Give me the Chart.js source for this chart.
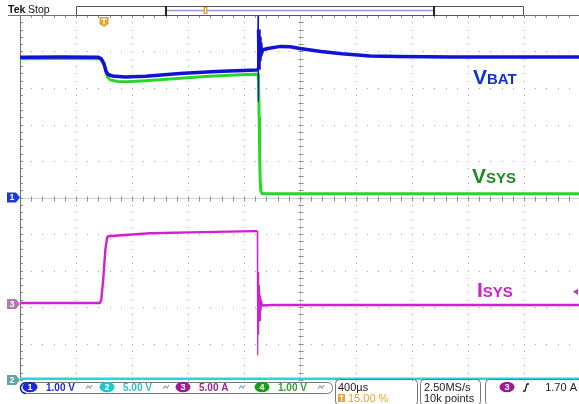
<!DOCTYPE html>
<html>
<head>
<meta charset="utf-8">
<script src="https://cdn.jsdelivr.net/npm/chart.js@4/dist/chart.umd.min.js"></script>
<style>
  html, body { margin: 0; padding: 0; background: #fff; overflow: hidden; }
  #wrap { width: 580px; height: 404px; }
</style>
</head>
<body>
<div id="wrap"><canvas id="scope" width="580" height="404"></canvas></div>
<script>
// horizontal: 400 µs/div, 10 divisions, trigger at 15 %
const timePerDiv = 400;
const triggerPct = 15;
const divsX = 10;
const divsY = 10;

// channel scale (units/div) and ground position (div from centre): CH1, CH2, CH3, CH4
const chScale = [1.00, 5.00, 5.00, 1.00];
const chPos = [0, -5, -2.92, 0];
const trigLevel = 1.70; // A on CH3

// CH1 VBAT (µs, V)
const vbatTime  = [-600, -300, -40, -20, 0, 15, 30, 60, 150, 300, 540, 800, 1090, 1097, 1100, 1102, 1104, 1107, 1110, 1114, 1119, 1125, 1135, 1170, 1260, 1330, 1400, 1550, 1700, 1900, 2100, 2500, 3400];
const vbatVolts = [3.84, 3.85, 3.84, 3.80, 3.66, 3.45, 3.37, 3.33, 3.30, 3.32, 3.40, 3.45, 3.49, 3.50, 5.00, 2.62, 4.60, 3.50, 4.40, 3.75, 4.25, 3.95, 4.05, 4.08, 4.14, 4.13, 4.08, 4.00, 3.94, 3.88, 3.86, 3.85, 3.85];

// CH4 VSYS (µs, V)
const vsysTime  = [-600, -300, -30, -10, 10, 25, 45, 100, 165, 300, 543, 750, 971, 1100, 1104, 1108, 1112, 1116, 1120, 1130, 1200, 1600, 3400];
const vsysVolts = [3.80, 3.81, 3.80, 3.75, 3.52, 3.30, 3.22, 3.18, 3.17, 3.20, 3.27, 3.32, 3.36, 3.38, 3.20, 2.20, 1.10, 0.40, 0.18, 0.11, 0.10, 0.10, 0.10];

// CH3 ISYS (µs, A)
const isysTime = [-600, -30, -20, -5, 10, 22, 30, 100, 329, 700, 1079, 1095, 1098, 1100, 1103, 1106, 1109, 1113, 1117, 1122, 1130, 1200, 3400];
const isysAmps = [0.15, 0.15, 0.5, 3.5, 7.5, 9.1, 9.3, 9.4, 9.7, 9.85, 10.0, 10.0, -7.0, 4.4, -4.2, 2.6, -2.2, 1.2, -0.9, 0.3, -0.2, -0.12, -0.12];

// CH2 (µs, V)
const ch2Time = [-600, 3400];
const ch2Volts = [0.15, 0.15];

const tMin = -divsX * timePerDiv * triggerPct / 100;
const tMax = tMin + divsX * timePerDiv;

const pts = (t, v) => t.map((x, i) => ({ x: x, y: v[i] }));

function chAxis(ch) {
  return {
    type: 'linear', display: false,
    min: (-divsY / 2 - chPos[ch]) * chScale[ch],
    max: (divsY / 2 - chPos[ch]) * chScale[ch]
  };
}

// long steep edges are drawn thin, like on the scope
const steep = w => c => {
  const dx = Math.abs(c.p1.x - c.p0.x), dy = Math.abs(c.p1.y - c.p0.y);
  return (dy > 45 && dy > 4 * dx) ? 1.2 : w;
};

const graticule = {
  id: 'graticule',
  beforeDatasetsDraw(chart) {
    const ctx = chart.ctx, xs = chart.scales.x, ys = chart.scales.yDiv;
    const xAt = d => xs.getPixelForValue(tMin + d * timePerDiv);
    const yAt = d => ys.getPixelForValue(d);
    ctx.save();
    ctx.fillStyle = '#a4a4a4';
    for (let i = 1; i < divsX; i++) {
      if (i === divsX / 2) continue;
      const px = Math.round(xAt(i));
      for (let k = 0; k <= divsY * 5; k++) ctx.fillRect(px, Math.round(yAt(-divsY / 2 + k / 5)), 1, 1);
    }
    for (let j = -divsY / 2 + 1; j < divsY / 2; j++) {
      if (j === 0) continue;
      const py = Math.round(yAt(j));
      for (let k = 0; k <= divsX * 5; k++) ctx.fillRect(Math.round(xAt(k / 5)), py, 1, 1);
    }
    // centre cross with ticks
    const cx = Math.round(xAt(divsX / 2)) + 0.5, cy = Math.round(yAt(0)) + 0.5;
    ctx.strokeStyle = '#d0d0d0';
    ctx.lineWidth = 1;
    ctx.beginPath();
    ctx.moveTo(cx, yAt(divsY / 2)); ctx.lineTo(cx, yAt(-divsY / 2));
    ctx.moveTo(xAt(0), cy); ctx.lineTo(xAt(divsX), cy);
    ctx.stroke();
    ctx.strokeStyle = '#8c8c8c';
    ctx.beginPath();
    for (let k = 0; k <= divsY * 5; k++) {
      const py = Math.round(yAt(-divsY / 2 + k / 5)) + 0.5;
      ctx.moveTo(cx - 2, py); ctx.lineTo(cx + 3, py);
      ctx.moveTo(xAt(0), py); ctx.lineTo(xAt(0) + 3, py);
    }
    for (let k = 0; k <= divsX * 5; k++) {
      const px = Math.round(xAt(k / 5)) + 0.5;
      ctx.moveTo(px, cy - 2); ctx.lineTo(px, cy + 3);
      ctx.moveTo(px, yAt(divsY / 2)); ctx.lineTo(px, yAt(divsY / 2) + 3);
    }
    ctx.stroke();
    // frame: left and top
    ctx.strokeStyle = '#707070';
    ctx.beginPath();
    ctx.moveTo(Math.round(xAt(0)) + 0.5, yAt(divsY / 2));
    ctx.lineTo(Math.round(xAt(0)) + 0.5, yAt(-divsY / 2));
    ctx.moveTo(8, Math.round(yAt(divsY / 2)) + 0.5);
    ctx.lineTo(580, Math.round(yAt(divsY / 2)) + 0.5);
    ctx.stroke();
    ctx.restore();
  }
};

function tag(ctx, y, fill, txt) {
  ctx.fillStyle = fill;
  ctx.beginPath();
  ctx.moveTo(7, y - 5); ctx.lineTo(16, y - 5); ctx.lineTo(20, y); ctx.lineTo(16, y + 5); ctx.lineTo(7, y + 5);
  ctx.closePath(); ctx.fill();
  ctx.fillStyle = '#fff';
  ctx.font = 'bold 9px "Liberation Sans"';
  ctx.textAlign = 'center'; ctx.textBaseline = 'middle';
  ctx.fillText(txt, 12, y + 0.5);
}

function badge(ctx, cx, cy, fill, txt) {
  ctx.fillStyle = fill;
  ctx.beginPath(); ctx.ellipse(cx, cy, 7.5, 5.2, 0, 0, Math.PI * 2); ctx.fill();
  ctx.fillStyle = '#fff';
  ctx.font = 'bold 9px "Liberation Sans"';
  ctx.textAlign = 'center'; ctx.textBaseline = 'middle';
  ctx.fillText(txt, cx, cy + 0.5);
}

function squiggle(ctx, x, y) {
  ctx.strokeStyle = '#8aa2c8'; ctx.lineWidth = 1.2;
  ctx.beginPath();
  ctx.moveTo(x - 3, y + 2); ctx.lineTo(x - 1, y - 1); ctx.lineTo(x + 1, y + 1); ctx.lineTo(x + 3, y - 2);
  ctx.stroke();
}

function roundBox(ctx, x, y, w, h, r, color) {
  ctx.strokeStyle = color; ctx.lineWidth = 1;
  ctx.beginPath(); ctx.roundRect(x + 0.5, y + 0.5, w, h, r); ctx.stroke();
}

function tMarker(ctx, x, top) {
  ctx.fillStyle = '#f0a028';
  ctx.beginPath();
  ctx.moveTo(x - 4.5, top); ctx.lineTo(x + 4.5, top); ctx.lineTo(x + 4.5, top + 7);
  ctx.lineTo(x, top + 10); ctx.lineTo(x - 4.5, top + 7); ctx.closePath(); ctx.fill();
  ctx.fillStyle = '#fff';
  ctx.fillRect(x - 2.5, top + 1.5, 5, 1.5);
  ctx.fillRect(x - 0.7, top + 1.5, 1.5, 6);
}

function label(ctx, x, y, color, big, small) {
  ctx.fillStyle = color;
  ctx.textAlign = 'left'; ctx.textBaseline = 'alphabetic';
  ctx.font = 'bold 21px "Liberation Sans"';
  ctx.fillText(big, x, y);
  const w = ctx.measureText(big).width;
  ctx.font = 'bold 15px "Liberation Sans"';
  ctx.fillText(small, x + w, y);
}

const overlay = {
  id: 'overlay',
  afterDraw(chart) {
    const ctx = chart.ctx, xs = chart.scales.x;
    ctx.save();
    // trace names
    label(ctx, 473, 84, '#1230d2', 'V', 'BAT');
    label(ctx, 472, 183, '#1f8a1f', 'V', 'SYS');
    label(ctx, 477, 297, '#d020c8', 'I', 'SYS');

    // ground markers on the left
    tag(ctx, chart.scales.yCh3.getPixelForValue(0), '#b07ab0', '3');
    tag(ctx, chart.scales.yCh1.getPixelForValue(0), '#1a3ae0', '1');

    // trigger level arrow on the right
    const ty = chart.scales.yCh3.getPixelForValue(trigLevel);
    ctx.fillStyle = '#c030c0';
    ctx.beginPath(); ctx.moveTo(573, ty); ctx.lineTo(578, ty - 3); ctx.lineTo(578, ty + 3); ctx.closePath(); ctx.fill();

    // header
    ctx.fillStyle = '#fff'; ctx.fillRect(0, 0, 580, 14);
    ctx.fillStyle = '#111'; ctx.textAlign = 'left'; ctx.textBaseline = 'alphabetic';
    ctx.font = 'bold 10.5px "Liberation Sans"'; ctx.fillText('Tek', 8, 13);
    ctx.font = '10.5px "Liberation Sans"'; ctx.fillText('Stop', 28, 13);
    ctx.fillStyle = '#fff'; ctx.fillRect(76, 6, 447, 9);
    roundBox(ctx, 76, 6, 447, 9, 0, '#555');
    ctx.strokeStyle = '#9898e0'; ctx.lineWidth = 1.5;
    ctx.beginPath(); ctx.moveTo(166, 10.5); ctx.lineTo(434, 10.5); ctx.stroke();
    ctx.fillStyle = '#222'; ctx.fillRect(165, 6, 2, 10); ctx.fillRect(433, 6, 2, 10);
    ctx.fillStyle = '#f0a028'; ctx.fillRect(203.5, 7, 4, 7);
    ctx.fillStyle = '#fff'; ctx.fillRect(205, 8, 1, 5);
    tMarker(ctx, xs.getPixelForValue(0), 17);

    // status bar
    ctx.fillStyle = '#fff'; ctx.fillRect(0, 381, 580, 23);
    tag(ctx, chart.scales.yCh2.getPixelForValue(0), '#5ea8a8', '2');
    roundBox(ctx, 20, 382, 312, 11, 5, '#777');
    ctx.strokeStyle = '#1c2a88'; ctx.lineWidth = 1.5;
    ctx.beginPath(); ctx.arc(26, 388, 5.5, Math.PI * 0.5, Math.PI * 1.5); ctx.stroke();
    const chCol = ['#1a2ad0', '#22c4cc', '#9a1c98', '#18a018'];
    const chTxt = ['#1a2ad0', '#36c0cc', '#9a2a98', '#2ea02e'];
    const chX = [30, 107, 183, 262];
    const chUnit = ['V', 'V', 'A', 'V'];
    for (let c = 0; c < 4; c++) {
      badge(ctx, chX[c], 387, chCol[c], String(c + 1));
      ctx.fillStyle = chTxt[c]; ctx.textAlign = 'left'; ctx.textBaseline = 'alphabetic';
      ctx.font = 'bold 10px "Liberation Sans"';
      ctx.fillText(chScale[c].toFixed(2) + ' ' + chUnit[c], chX[c] + 16, 391);
      squiggle(ctx, chX[c] + 59, 387);
    }
    roundBox(ctx, 335, 379, 82, 26, 4, '#777');
    roundBox(ctx, 420, 379, 60, 26, 4, '#777');
    roundBox(ctx, 485, 379, 100, 26, 4, '#777');
    ctx.fillStyle = '#222'; ctx.font = '11px "Liberation Sans"';
    ctx.fillText(timePerDiv + 'µs', 338, 391);
    ctx.fillText('2.50MS/s', 424, 391);
    ctx.fillText('10k points', 424, 402);
    ctx.fillStyle = '#f0a028'; ctx.fillRect(338, 394, 7, 8);
    ctx.fillStyle = '#fff'; ctx.fillRect(339.5, 395.5, 4, 1.2); ctx.fillRect(341, 395.5, 1.2, 5.5);
    ctx.fillStyle = '#f0a028'; ctx.font = '11px "Liberation Sans"';
    ctx.fillText(triggerPct.toFixed(2) + ' %', 348, 402);
    badge(ctx, 507, 387, '#9a1c98', '3');
    ctx.strokeStyle = '#222'; ctx.lineWidth = 1.3;
    ctx.beginPath(); ctx.moveTo(523, 391); ctx.lineTo(525, 391); ctx.lineTo(527, 384); ctx.lineTo(529, 384); ctx.stroke();
    ctx.fillStyle = '#222'; ctx.textAlign = 'right'; ctx.textBaseline = 'alphabetic';
    ctx.font = '11px "Liberation Sans"';
    ctx.fillText(trigLevel.toFixed(2) + ' A', 577, 391);
    ctx.restore();
  }
};

new Chart(document.getElementById('scope'), {
  type: 'line',
  data: {
    datasets: [
      { label: 'VBAT', data: pts(vbatTime, vbatVolts), yAxisID: 'yCh1', borderColor: '#1212d6', borderWidth: 3.5, segment: { borderWidth: steep(3.5) } },
      { label: 'VSYS', data: pts(vsysTime, vsysVolts), yAxisID: 'yCh4', borderColor: '#2ad62a', borderWidth: 3, segment: { borderWidth: steep(3) } },
      { label: 'ISYS', data: pts(isysTime, isysAmps), yAxisID: 'yCh3', borderColor: '#d21fd2', borderWidth: 2.4, segment: { borderWidth: steep(2.4) } },
      { label: 'CH2', data: pts(ch2Time, ch2Volts), yAxisID: 'yCh2', borderColor: '#22d8d8', borderWidth: 3 }
    ]
  },
  options: {
    responsive: false,
    animation: false,
    layout: { padding: { left: 20, top: 15, right: 0, bottom: 24 } },
    elements: { point: { radius: 0 }, line: { tension: 0 } },
    plugins: { legend: { display: false }, tooltip: { enabled: false } },
    scales: {
      x: { type: 'linear', display: false, min: tMin, max: tMax },
      yDiv: { type: 'linear', display: false, min: -divsY / 2, max: divsY / 2 },
      yCh1: chAxis(0),
      yCh2: chAxis(1),
      yCh3: chAxis(2),
      yCh4: chAxis(3)
    }
  },
  plugins: [graticule, overlay]
});
</script>
</body>
</html>
